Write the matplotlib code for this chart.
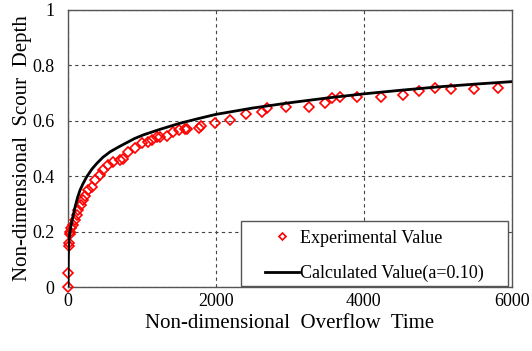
import matplotlib
matplotlib.use("Agg")
import matplotlib.pyplot as plt
from matplotlib.patches import Rectangle

# experimental points
exp_time = [0, 5, 10, 15, 20, 25, 40, 72, 95, 117, 140, 171, 198, 230, 275,
            320, 365, 432, 477, 545, 612, 703, 740, 815, 905, 996, 1085,
            1131, 1198, 1243, 1334, 1423, 1500, 1581, 1610, 1775, 1800,
            1986, 2189, 2405, 2618, 2685, 2946, 3261, 3473, 3563, 3676,
            3901, 4225, 4532, 4748, 4960, 5172, 5491, 5807]
exp_depth = [0.0, 0.05, 0.15, 0.16, 0.19, 0.20, 0.215, 0.224, 0.242, 0.26,
             0.278, 0.296, 0.314, 0.329, 0.35, 0.362, 0.386, 0.404, 0.422,
             0.44, 0.452, 0.458, 0.462, 0.488, 0.50, 0.519, 0.525, 0.531,
             0.543, 0.543, 0.545, 0.561, 0.565, 0.569, 0.572, 0.573, 0.58,
             0.591, 0.603, 0.623, 0.633, 0.647, 0.651, 0.651, 0.663, 0.681,
             0.687, 0.685, 0.685, 0.693, 0.709, 0.717, 0.715, 0.715, 0.717]

# calculated curve
calc_time = [0, 1, 3, 6, 12, 20, 35, 50, 70, 95, 130, 162, 200, 252, 320,
             388, 470, 568, 680, 793, 900, 1018, 1243, 1500, 1750, 2000,
             2500, 3000, 3500, 4000, 4500, 5000, 5500, 6000]
calc_depth = [0.0, 0.05, 0.10, 0.14, 0.17, 0.19, 0.215, 0.235, 0.26, 0.29,
              0.325, 0.35, 0.372, 0.398, 0.425, 0.446, 0.468, 0.488, 0.505,
              0.521, 0.536, 0.549, 0.569, 0.59, 0.607, 0.623, 0.646, 0.665,
              0.682, 0.697, 0.71, 0.722, 0.732, 0.741]

plt.rcParams['font.family'] = ['Liberation Serif', 'DejaVu Serif']

fig = plt.figure(figsize=(5.32, 3.51), dpi=100)
ax = fig.add_axes([0.128, 0.182, 0.834, 0.79])

ax.plot(exp_time, exp_depth, linestyle='none', marker='D', markersize=5.5,
        markerfacecolor='none', markeredgecolor='red', markeredgewidth=1.2,
        label='Experimental Value', zorder=3, clip_on=False)
ax.plot(calc_time, calc_depth, color='black', linewidth=2,
        label='Calculated Value(a=0.10)', zorder=4)

ax.set_xlim(0, 6000)
ax.set_ylim(0, 1)
ax.set_xticks([0, 2000, 4000, 6000])
ax.set_yticks([0, 0.2, 0.4, 0.6, 0.8, 1])
ax.set_yticklabels(['0', '0.2', '0.4', '0.6', '0.8', '1'])
ax.tick_params(labelsize=13, length=0, colors='black')
ax.tick_params(axis='x', pad=4)
ax.tick_params(axis='y', pad=10)
ax.grid(True, linestyle=(0, (3, 3)), color='#444444', linewidth=0.8)
for sp in ax.spines.values():
    sp.set_color('#555555')
    sp.set_linewidth(1.0)

ax.set_xlabel('Non-dimensional  Overflow  Time', fontsize=15, labelpad=3)
ax.set_ylabel('Non-dimensional  Scour  Depth', fontsize=15, labelpad=0)

# legend frame drawn separately so the padding matches the original
frame = Rectangle((0.39, 0.004), 0.601, 0.234, transform=ax.transAxes,
                  facecolor='white', edgecolor='#555555', linewidth=1.0,
                  zorder=5)
ax.add_patch(frame)
leg = ax.legend(loc='center', bbox_to_anchor=(0.69, 0.113), fontsize=13,
                frameon=False, borderpad=0.2, handlelength=1.85,
                handletextpad=0.05, labelspacing=1.0, markerscale=0.65)
leg.set_zorder(6)

fig.savefig('out.png', dpi=100)
